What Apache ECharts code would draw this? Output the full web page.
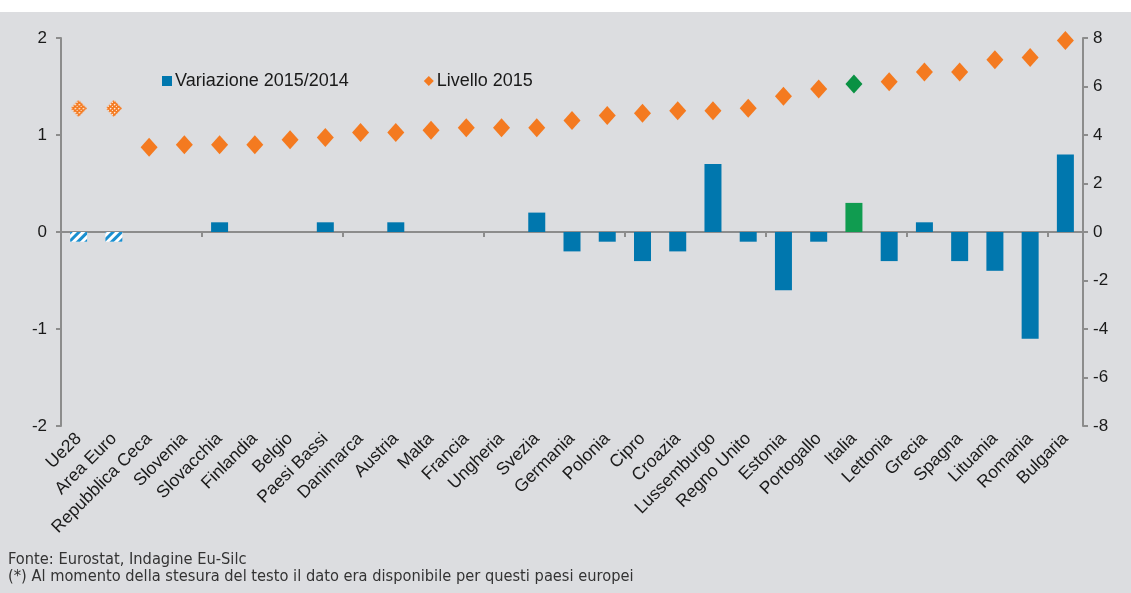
<!DOCTYPE html>
<html>
<head>
<meta charset="utf-8">
<script src="https://cdn.jsdelivr.net/npm/echarts@6/dist/echarts.min.js"></script>
<style>
html,body{margin:0;padding:0;background:#ffffff;}
#wrap{position:absolute;left:0;top:12px;width:1131px;height:581px;background:#dcdde0;}
#chart{position:absolute;left:0;top:0;width:1131px;height:581px;}
.foot{position:absolute;left:8px;font-family:"Liberation Sans Narrow","DejaVu Sans Condensed","Liberation Sans",sans-serif;font-size:16.3px;color:#333;line-height:17px;white-space:nowrap;}
</style>
</head>
<body>
<div id="wrap">
<div id="chart"></div>
<div class="foot" style="top:538px;">Fonte: Eurostat, Indagine Eu-Silc</div>
<div class="foot" style="top:555px;">(*) Al momento della stesura del testo il dato era disponibile per questi paesi europei</div>
</div>
<script>
const categories = ["Ue28","Area Euro","Repubblica Ceca","Slovenia","Slovacchia","Finlandia","Belgio","Paesi Bassi","Danimarca","Austria","Malta","Francia","Ungheria","Svezia","Germania","Polonia","Cipro","Croazia","Lussemburgo","Regno Unito","Estonia","Portogallo","Italia","Lettonia","Grecia","Spagna","Lituania","Romania","Bulgaria"];
const variazione = [-0.1,-0.1,0,0,0.1,0,0,0.1,0,0.1,0,0,0,0.2,-0.2,-0.1,-0.3,-0.2,0.7,-0.1,-0.6,-0.1,0.3,-0.3,0.1,-0.3,-0.4,-1.1,0.8];
const livello = [5.1,5.1,3.5,3.6,3.6,3.6,3.8,3.9,4.1,4.1,4.2,4.3,4.3,4.3,4.6,4.8,4.9,5.0,5.0,5.1,5.6,5.9,6.1,6.2,6.6,6.6,7.1,7.2,7.9];
const leftTicks = {min:-2, max:2, interval:1};
const rightTicks = {min:-8, max:8, interval:2};
const aggregates = ["Ue28","Area Euro"];
const highlight = "Italia";

const BLUE = '#0077ae', ORANGE = '#f47a20', GREEN_BAR = '#109c50', GREEN_DOT = '#0a9143';

// patterned diamond image for aggregate markers
const DW = 16, DH = 17;
const dc = document.createElement('canvas');
dc.width = DW; dc.height = DH;
const dctx = dc.getContext('2d');
dctx.beginPath();
dctx.moveTo(DW/2, 0); dctx.lineTo(DW, DH/2); dctx.lineTo(DW/2, DH); dctx.lineTo(0, DH/2); dctx.closePath();
dctx.fillStyle = ORANGE; dctx.fill();
dctx.save(); dctx.clip();
dctx.fillStyle = '#ffffff';
for (let y = 0; y < DH; y += 4) for (let x = 0; x < DW; x += 4) { dctx.fillRect(x, y, 1, 1); dctx.fillRect(x+2, y+2, 1, 1); }
dctx.fillStyle = 'rgba(255,255,255,0.45)';
for (let y = 0; y < DH; y += 4) for (let x = 0; x < DW; x += 4) { dctx.fillRect(x+1, y, 1, 1); dctx.fillRect(x, y+1, 1, 1); }
dctx.restore();
const patternDiamond = 'image://' + dc.toDataURL();

const barData = variazione.map((v,i) => {
  const c = categories[i];
  if (aggregates.includes(c)) return {value:v, itemStyle:{color:'#ffffff', decal:{symbol:'rect', symbolSize:1, color:'#1a8fd0', dashArrayX:[1,0], dashArrayY:[3,3], rotation:-Math.PI/4}}};
  if (c === highlight) return {value:v, itemStyle:{color:GREEN_BAR}};
  return v;
});
const dotData = livello.map((v,i) => {
  const c = categories[i];
  if (aggregates.includes(c)) return {value:v, symbol:patternDiamond, symbolSize:[DW,DH]};
  if (c === highlight) return {value:v, itemStyle:{color:GREEN_DOT}};
  return v;
});

const font = '"Liberation Sans", Arial, sans-serif';
const chart = echarts.init(document.getElementById('chart'));
chart.setOption({
  animation:false,
  textStyle:{fontFamily:font},
  grid:{left:61, right:48, top:26, bottom:167},
  legend:{
    left:157, top:55, itemWidth:10, itemHeight:10, itemGap:75,
    textStyle:{fontSize:18, color:'#1a1a1a', fontFamily:font, padding:[0,0,0,-2]},
    data:[{name:'Variazione 2015/2014', icon:'rect'},{name:'Livello 2015', icon:'diamond'}]
  },
  xAxis:[
    {type:'category', data:categories, boundaryGap:true,
     axisLine:{onZero:true, lineStyle:{color:'#8c8c8c', width:2}},
     axisTick:{show:true, length:5, lineStyle:{color:'#8c8c8c', width:2}},
     axisLabel:{show:false}},
    {type:'category', data:categories, position:'bottom',
     axisLine:{show:false, onZero:false}, axisTick:{show:false},
     axisLabel:{rotate:45, fontSize:17.5, color:'#1a1a1a', margin:10, interval:0, fontFamily:font}}
  ],
  yAxis:[
    {type:'value', min:leftTicks.min, max:leftTicks.max, interval:leftTicks.interval, position:'left',
     splitLine:{show:false},
     axisLine:{show:true, onZero:false, lineStyle:{color:'#8c8c8c', width:2}},
     axisTick:{show:true, length:5, lineStyle:{color:'#8c8c8c', width:2}},
     axisLabel:{fontSize:17, color:'#1a1a1a', margin:14, fontFamily:font}},
    {type:'value', min:rightTicks.min, max:rightTicks.max, interval:rightTicks.interval, position:'right',
     splitLine:{show:false},
     axisLine:{show:true, onZero:false, lineStyle:{color:'#8c8c8c', width:2}},
     axisTick:{show:true, length:5, lineStyle:{color:'#8c8c8c', width:2}},
     axisLabel:{fontSize:17, color:'#1a1a1a', margin:10, fontFamily:font}}
  ],
  series:[
    {name:'Variazione 2015/2014', type:'bar', xAxisIndex:0, yAxisIndex:0, data:barData, barWidth:17,
     itemStyle:{color:BLUE}, z:2},
    {name:'Livello 2015', type:'scatter', xAxisIndex:0, yAxisIndex:1, data:dotData, symbol:'diamond', symbolSize:[17,19],
     itemStyle:{color:ORANGE, opacity:1}, z:3}
  ]
});
</script>
</body>
</html>
